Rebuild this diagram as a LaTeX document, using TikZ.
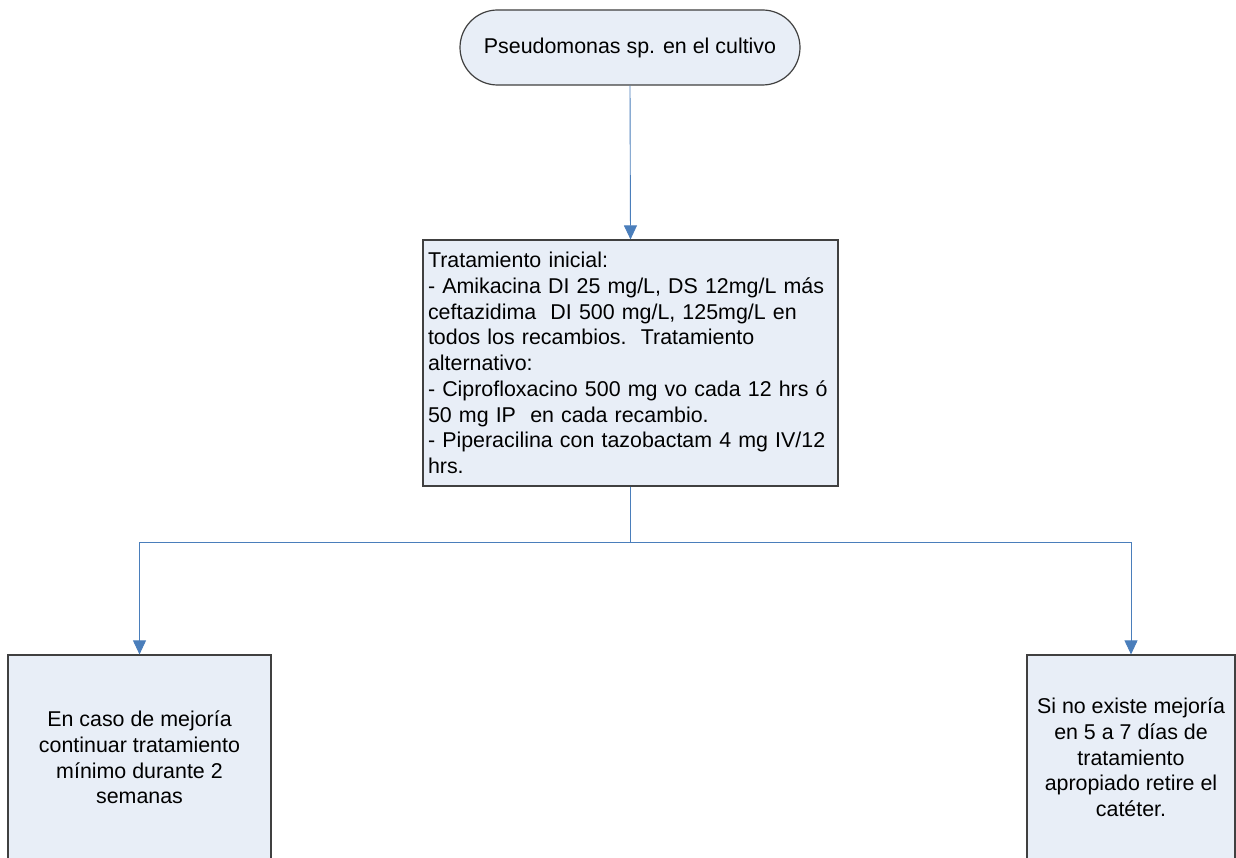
\documentclass[tikz,border=0pt]{standalone}
\usepackage{fontspec}
\setmainfont{Liberation Sans}
\usepackage{xcolor}
\usetikzlibrary{arrows.meta}
\definecolor{boxfill}{HTML}{E8EEF7}
\definecolor{boxline}{HTML}{404040}
\definecolor{linkblue}{HTML}{4A7EBB}
\tikzset{
  txt/.style={font=\fontsize{21.4}{25.7}\selectfont},
  startbox/.style={txt, draw=boxline, fill=boxfill, line width=1.2pt,
    rounded corners=37.5pt, minimum width=340pt, minimum height=75pt},
  treatbox/.style={txt, draw=boxline, fill=boxfill, line width=1.2pt,
    minimum width=415pt, minimum height=246pt, text width=405pt,
    inner sep=5pt, align=left},
  outbox/.style={txt, draw=boxline, fill=boxfill, line width=1.2pt,
    minimum height=205pt, align=center},
  link/.style={draw=linkblue, line width=0.9pt},
  linkarrow/.style={link, -{Triangle[width=13pt,length=14pt]}}
}

\begin{document}
\begin{tikzpicture}[x=1pt, y=-1pt]
  \clip (0,0) rectangle (1236,858);
  \fill[white] (0,0) rectangle (1236,858);

  \node[startbox] (cultivo) at (630,47.5) {Pseudomonas sp. en el cultivo};
  \node[treatbox] (inicial) at (630.5,363) {Tratamiento inicial:\\
    - Amikacina DI 25 mg/L, DS 12mg/L más\\
    ceftazidima\ \ DI 500 mg/L, 125mg/L en\\
    todos los recambios.\ \ Tratamiento\\
    alternativo:\\
    - Ciprofloxacino 500 mg vo cada 12 hrs ó\\
    50 mg IP\ \ en cada recambio.\\
    - Piperacilina con tazobactam 4 mg IV/12\\
    hrs.};
  \node[outbox, minimum width=263pt] (mejoria) at (139.5,757.5)
    {En caso de mejoría\\ continuar tratamiento\\ mínimo durante 2\\ semanas};
  \node[outbox, minimum width=208pt] (retiro) at (1131,757.5)
    {Si no existe mejoría\\ en 5 a 7 días de\\ tratamiento\\ apropiado retire el\\ catéter.};

  \coordinate (split) at (630.5,542);

  \draw[linkarrow] (cultivo.south) -- (inicial.north);
  \draw[link] (inicial.south) -- (split);
  \draw[linkarrow] (split) -| (mejoria.north);
  \draw[linkarrow] (split) -| (retiro.north);
\end{tikzpicture}
\end{document}
